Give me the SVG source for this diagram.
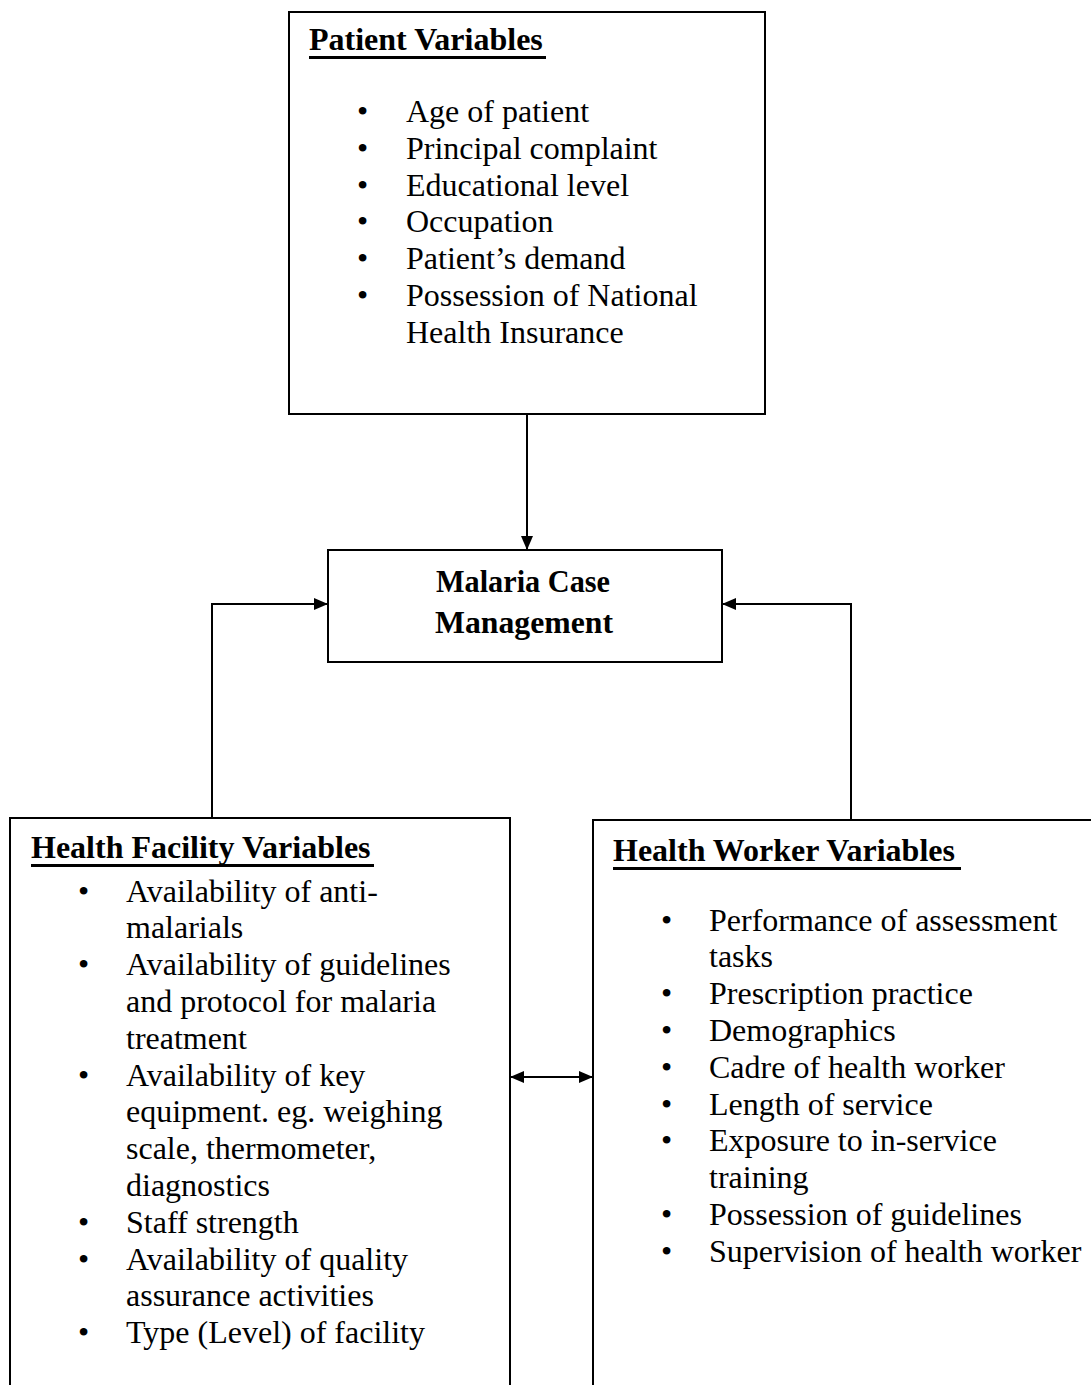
<svg xmlns="http://www.w3.org/2000/svg" width="1091" height="1385" viewBox="0 0 1091 1385">
<style>
.box{fill:#fff;stroke:#000;stroke-width:2}
.t{font-family:"Liberation Serif","Times New Roman",serif;font-size:32px;fill:#000}
.h{font-family:"Liberation Serif","Times New Roman",serif;font-size:32px;font-weight:bold;fill:#000}
.u{stroke:#000;stroke-width:3}
.c{fill:none;stroke:#000;stroke-width:2}
</style>
<defs>
<marker id="ah" viewBox="0 0 14 12" refX="14" refY="6" markerWidth="14" markerHeight="12" markerUnits="userSpaceOnUse" orient="auto-start-reverse">
<path d="M0,0 L14,6 L0,12 Z" fill="#000"/>
</marker>
</defs>
<rect width="1091" height="1385" fill="#fff"/>
<g id="patient">
<rect class="box" x="289" y="12" width="476" height="402"/>
<text class="h" x="309" y="50">Patient Variables</text>
<line class="u" x1="309" y1="57.5" x2="546" y2="57.5"/>
<g class="t">
<text x="357" y="122">•</text><text x="406" y="122">Age of patient</text>
<text x="357" y="158.8">•</text><text x="406" y="158.8">Principal complaint</text>
<text x="357" y="195.6">•</text><text x="406" y="195.6">Educational level</text>
<text x="357" y="232.4">•</text><text x="406" y="232.4">Occupation</text>
<text x="357" y="269.2">•</text><text x="406" y="269.2">Patient’s demand</text>
<text x="357" y="306">•</text><text x="406" y="306">Possession of National</text>
<text x="406" y="342.8">Health Insurance</text>
</g>
</g>
<g id="malaria">
<rect class="box" x="328" y="550" width="394" height="112"/>
<text class="h" x="523" y="592" font-size="35" text-anchor="middle" textLength="174" lengthAdjust="spacingAndGlyphs">Malaria Case</text>
<text class="h" x="524" y="633" font-size="35" text-anchor="middle" textLength="178" lengthAdjust="spacingAndGlyphs">Management</text>
</g>
<g id="facility">
<rect class="box" x="10" y="818" width="500" height="600"/>
<text class="h" x="31" y="858">Health Facility Variables</text>
<line class="u" x1="31" y1="865.5" x2="374" y2="865.5"/>
<g class="t">
<text x="78" y="901.6">•</text><text x="126" y="901.6">Availability of anti-</text>
<text x="126" y="938.4">malarials</text>
<text x="78" y="975.2">•</text><text x="126" y="975.2">Availability of guidelines</text>
<text x="126" y="1012">and protocol for malaria</text>
<text x="126" y="1048.8">treatment</text>
<text x="78" y="1085.6">•</text><text x="126" y="1085.6">Availability of key</text>
<text x="126" y="1122.4">equipment. eg. weighing</text>
<text x="126" y="1159.2">scale, thermometer,</text>
<text x="126" y="1196">diagnostics</text>
<text x="78" y="1232.8">•</text><text x="126" y="1232.8">Staff strength</text>
<text x="78" y="1269.6">•</text><text x="126" y="1269.6">Availability of quality</text>
<text x="126" y="1306.4">assurance activities</text>
<text x="78" y="1343.2">•</text><text x="126" y="1343.2">Type (Level) of facility</text>
</g>
</g>
<g id="worker">
<rect class="box" x="593" y="820" width="520" height="600"/>
<text class="h" x="613" y="861">Health Worker Variables</text>
<line class="u" x1="613" y1="868.5" x2="961" y2="868.5"/>
<g class="t">
<text x="661" y="930.6">•</text><text x="709" y="930.6">Performance of assessment</text>
<text x="709" y="967.4">tasks</text>
<text x="661" y="1004.2">•</text><text x="709" y="1004.2">Prescription practice</text>
<text x="661" y="1041">•</text><text x="709" y="1041">Demographics</text>
<text x="661" y="1077.8">•</text><text x="709" y="1077.8">Cadre of health worker</text>
<text x="661" y="1114.6">•</text><text x="709" y="1114.6">Length of service</text>
<text x="661" y="1151.4">•</text><text x="709" y="1151.4">Exposure to in-service</text>
<text x="709" y="1188.2">training</text>
<text x="661" y="1225">•</text><text x="709" y="1225">Possession of guidelines</text>
<text x="661" y="1261.8">•</text><text x="709" y="1261.8">Supervision of health worker</text>
</g>
</g>
<g id="connectors">
<path class="c" d="M527,414 L527,550" marker-end="url(#ah)"/>
<path class="c" d="M212,818 L212,604 L328,604" marker-end="url(#ah)"/>
<path class="c" d="M851,820 L851,604 L722,604" marker-end="url(#ah)"/>
<path class="c" d="M510,1077 L593,1077" marker-start="url(#ah)" marker-end="url(#ah)"/>
</g>
</svg>
